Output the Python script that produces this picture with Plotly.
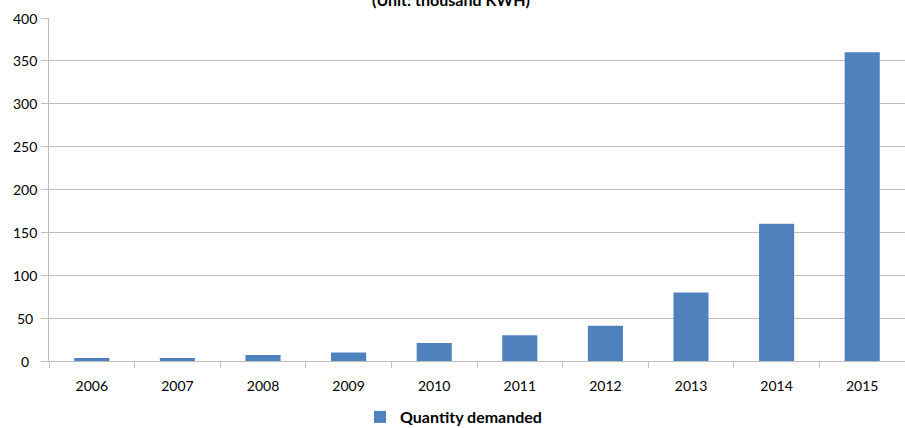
import plotly.graph_objects as go

years = ["2006", "2007", "2008", "2009", "2010", "2011", "2012", "2013", "2014", "2015"]
quantity = [3.5, 3.5, 7, 10, 21, 30, 41, 80, 160, 360]
y_ticks = [0, 50, 100, 150, 200, 250, 300, 350, 400]
series_name = "Quantity demanded"
title_text = "(Unit: thousand KWH)"

FONT = "Lato, Open Sans, sans-serif"
L, R, T, B = 49, 0, 18, 67
W, H = 905, 428

fig = go.Figure()
fig.add_trace(go.Bar(
    x=years, y=quantity, name=series_name,
    marker=dict(color="#4F81BD", line=dict(width=0)),
    width=0.41,
))

annotations = [dict(text="<b>" + title_text + "</b>", xref="paper", yref="paper",
                    x=0.47, y=1, xanchor="center", yanchor="bottom", yshift=7,
                    showarrow=False, font=dict(size=16, family=FONT))]
# y tick labels (centered, as in the reference)
for v in y_ticks:
    annotations.append(dict(text=str(v), xref="paper", yref="y",
                            x=(25 - L) / (W - L - R), y=v, xanchor="center", yanchor="middle",
                            showarrow=False, font=dict(size=14, family=FONT, color="#000000")))

fig.update_layout(
    width=W, height=H,
    margin=dict(l=L, r=R, t=T, b=B),
    plot_bgcolor="white", paper_bgcolor="white",
    font=dict(family=FONT, size=14, color="#000000"),
    showlegend=True,
    legend=dict(orientation="h", xref="container", yref="container",
                x=360 / W, xanchor="left", y=(H - 417) / H, yanchor="middle",
                font=dict(size=16, family=FONT, weight="bold"),
                itemwidth=30, traceorder="normal"),
    annotations=annotations,
)
fig.update_xaxes(
    type="category", showline=True, linecolor="#BEBEBE", linewidth=1,
    ticks="outside", ticklen=6, tickcolor="#BEBEBE", tickson="boundaries",
    showgrid=False, tickfont=dict(size=14), range=[-0.5, 9.5],
    ticklabelstandoff=12,
)
fig.update_yaxes(
    range=[0, 400], tickvals=y_ticks, showticklabels=False,
    showline=True, linecolor="#BEBEBE", linewidth=1,
    ticks="outside", ticklen=7, tickcolor="#BEBEBE",
    showgrid=True, gridcolor="#BEBEBE", gridwidth=1, zeroline=False,
)

fig.write_html("out.html")
